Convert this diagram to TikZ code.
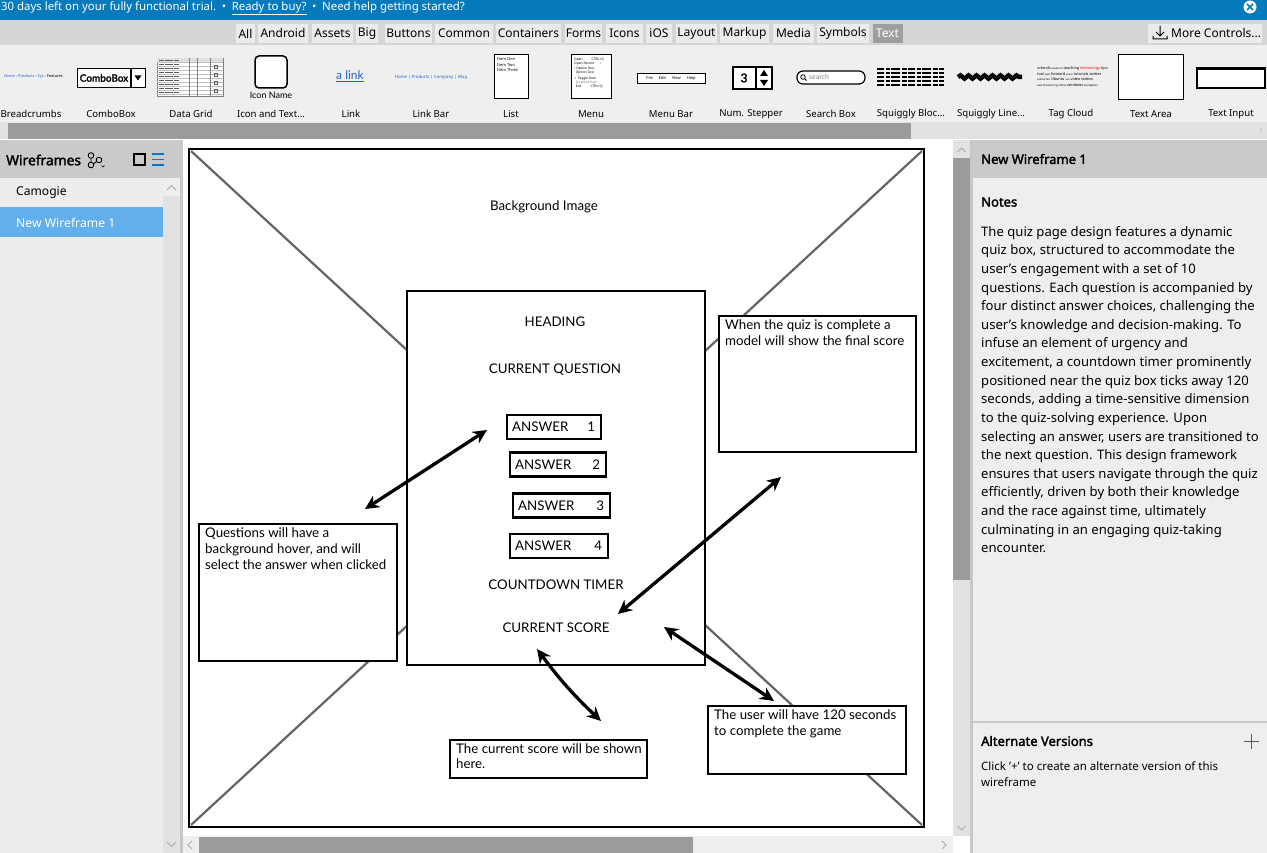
\documentclass[tikz,border=0pt]{standalone}
\usepackage{fontspec}
\setmainfont{Noto Sans}[AutoFakeBold=2.2]
\newfontfamily\wf{Lato}[AutoFakeBold=2.2]
\newfontfamily\dv{DejaVu Sans}
\usetikzlibrary{arrows.meta,calc,decorations.pathmorphing}
\definecolor{topblue}{RGB}{7,122,187}
\definecolor{tabrow}{RGB}{213,213,213}
\definecolor{tabbg}{RGB}{235,235,235}
\definecolor{tabsel}{RGB}{158,158,158}
\definecolor{comprow}{RGB}{239,239,239}
\definecolor{thumb}{RGB}{155,155,155}
\definecolor{track}{RGB}{226,226,226}
\definecolor{panelhead}{RGB}{201,202,204}
\definecolor{listbg}{RGB}{237,237,237}
\definecolor{selblue}{RGB}{99,175,235}
\definecolor{rightbg}{RGB}{238,238,238}
\definecolor{diag}{RGB}{100,100,100}
\definecolor{linkblue}{RGB}{30,100,190}
\definecolor{iconblue}{RGB}{0,120,200}
\definecolor{sepgray}{RGB}{200,200,200}
\definecolor{chev}{RGB}{170,170,170}
\newcommand\fsz[1]{\fontsize{#1}{#1}\selectfont}
\newcommand\mydots{...}
\begin{document}
\begin{tikzpicture}[x=1pt,y=-1pt,
  ui/.style={inner sep=0,font=\fsz{12}},
  tab/.style={fill=tabbg,inner sep=0,minimum height=19,font=\fsz{12}},
  complabel/.style={inner sep=0,font=\fsz{9.6}},
  wfbox/.style={draw=black,line width=2.2,fill=white,inner sep=0},
  wftext/.style={inner sep=0,anchor=north west,align=left,font=\wf\fontsize{13.3}{16}\selectfont},
  wfcap/.style={inner sep=0,font=\wf\fsz{13.3}},
  biarrow/.style={line width=3.3,{Stealth[length=14,width=13.5]}-{Stealth[length=14,width=13.5]}},
  tinytxt/.style={inner sep=0,font=\fsz{3.6}},
  hdr/.style={inner sep=0,anchor=west,font=\bfseries\fsz{13}}]
\useasboundingbox (0,0) rectangle (1267,853);

% ---------- top bar ----------
\fill[topblue] (0,0) rectangle (1267,20);
\node[ui,anchor=west,text=white,font=\fsz{11.4}] (trial) at (1,8.5) {30 days left on your fully functional trial.\enspace•\enspace\underline{Ready to buy?}\enspace•\enspace Need help getting started?};
\node[circle,fill=white,minimum size=13,inner sep=0] (close) at (1250,7) {};
\draw[topblue,line width=1.6] ($(close)+(-3,-3)$) -- ($(close)+(3,3)$) ($(close)+(-3,3)$) -- ($(close)+(3,-3)$);

% ---------- tab row ----------
\fill[tabrow] (0,20) rectangle (1267,45);
\foreach \t/\x/\w in {All/245.5/19,Android/283/50,Assets/332.5/41,Big/367/22,Buttons/408.5/47,Common/464/58,Containers/528.5/65,Forms/583.5/37,Icons/624.5/37,iOS/659/26,Layout/696.5/41,Markup/744.5/49,Media/793.5/41,Symbols/843/52}
  \node[tab,minimum width=\w] (tab-\t) at (\x,33.5) {\t};
\node[tab,fill=tabsel,text=white,minimum width=30] (tab-Text) at (887.5,33.5) {Text};
\node[tab,minimum width=114,anchor=west] (more) at (1148,33.5) {};
\node[ui,anchor=west] (moretxt) at (1171,33.5) {More Controls\mydots};
\draw[line width=1] (1160,26) -- (1160,36) (1156,32) -- (1160,36) -- (1164,32) (1153,36) -- (1153,39) -- (1167,39) -- (1167,36);

% ---------- component row ----------
\fill[comprow] (0,45) rectangle (1267,122);
\foreach \n/\x in {Breadcrumbs/31,ComboBox/111,Data Grid/191,Icon and Text\mydots/271,Link/351,Link Bar/431,List/511,Menu/591,Menu Bar/671,Num. Stepper/751,Search Box/831,Squiggly Bloc\mydots/911,Squiggly Line\mydots/991,Tag Cloud/1071,Text Area/1151,Text Input/1231}
  \node[complabel] (lbl-\x) at (\x,114) {\n};
% breadcrumbs
\node[tinytxt,anchor=east,text=linkblue,font=\fsz{3.9}] (bc) at (63,76) {Home › Products › Xyz › \textcolor{black}{Features}};
% combobox
\node[draw,fill=white,line width=1.3,minimum width=68,minimum height=19,inner sep=0,anchor=west] (cb) at (77,78) {};
\node[inner sep=0,font=\wf\bfseries\fsz{10}] (cbt) at (104,78) {ComboBox};
\draw[line width=1.3] (131,68.5) -- (131,87.5);
\fill (134.5,75.5) -- (141.5,75.5) -- (138,80.5) -- cycle;
% data grid
\node[draw=gray,fill=white,minimum width=66,minimum height=38,inner sep=0] (dg) at (190,77) {};
\fill[gray!25] (157,58) rectangle (223,62);
\foreach \yy in {62,66,70,74,78,82,86,90,94} \draw[gray!50,line width=0.3] (157,\yy) -- (223,\yy);
\draw[gray,line width=0.4] (189,58) -- (189,96) (197,58) -- (197,96) (210,58) -- (210,96);
\foreach \yy in {60,64,68,72,76,80,84,88,92} \draw[gray!70!black,line width=0.8,dash pattern=on 5pt off 1pt on 8pt off 1pt] (159,\yy) -- (180,\yy);
\foreach \yy in {68,76,84,92} \draw[gray!70!black,line width=0.7] (214,\yy) rectangle (217,\yy-2.5);
% icon and text
\draw[line width=1.5,rounded corners=4,fill=white] (255,56) rectangle (287,88);
\node[inner sep=0,font=\wf\fsz{9}] (iconname) at (271,95.5) {Icon Name};
% link
\node[inner sep=0,text=linkblue,font=\wf\fsz{12}] (alink) at (350,76) {\underline{a link}};
% link bar
\node[tinytxt,text=linkblue,font=\fsz{4.3}] (lbar) at (431,77) {Home | Products | Company | Blog};
% list
\node[draw,fill=white,line width=1,minimum width=34,minimum height=44,inner sep=0] (lst) at (511,77) {};
\node[tinytxt,anchor=north west,align=left,font=\fsz{4}] (lsttxt) at (497,57.5) {Item One\\[1.5pt]Item Two\\[1.5pt]Item Three};
% menu
\node[draw,fill=white,line width=1,minimum width=40,minimum height=44,inner sep=0] (menu) at (591,77) {};
\node[tinytxt,anchor=north west,align=left,font=\fsz{3.3}] (menutxt) at (574,57.5) {Open\hspace{9pt}CTRL+O\\[1pt]Open Recent\hspace{6pt}›\\[2pt]• Option One\\[1pt]\ \ Option Two\\[2pt]{\dv ✓} Toggle Item\\[1pt]\textcolor{gray}{\ \ Disabled Item}\\[1pt]\ \ Exit\hspace{9pt}CTRL+Q};
% menu bar
\node[draw,fill=white,line width=0.8,minimum width=68,minimum height=10,inner sep=0] (mbar) at (671,78) {};
\node[tinytxt,font=\fsz{4}] (mbart) at (671,78) {File\hspace{6pt}Edit\hspace{6pt}View\hspace{6pt}Help};
% num stepper
\node[draw,fill=white,line width=1.5,minimum width=39,minimum height=22,inner sep=0] (ns) at (752.5,78) {};
\node[inner sep=0,font=\wf\bfseries\fsz{12}] (ns3) at (744,78) {3};
\draw[line width=1.5] (756,67) -- (756,89);
\fill (764,70) -- (768,76) -- (760,76) -- cycle (764,86) -- (768,80) -- (760,80) -- cycle;
% search box
\draw[line width=1.2,fill=white,rounded corners=6] (797,71) rectangle (865,84);
\draw[line width=0.8] (803,77) circle (2.3) (804.7,78.7) -- (806.5,80.5);
\node[inner sep=0,text=gray,font=\wf\fsz{7}] (srch) at (819,77) {search};
% squiggly block
\foreach \yy in {69,73,77,81,85} \draw[line width=1.7,dash pattern=on 7pt off 1.5pt on 4pt off 1.5pt on 9pt off 1.5pt on 5pt off 1.5pt] (877,\yy) -- (944,\yy);
% squiggly line
\draw[line width=4.5,decorate,decoration={snake,segment length=8,amplitude=1.6}] (958,77) -- (1022,77);
% tag cloud
\node[tinytxt,anchor=north west,align=left,font=\fsz{3.8}] (tag) at (1037,66) {schools {\fontsize{2.5}{3}\selectfont academic} teaching \textcolor{red}{technology} tips\\[1.5pt]tool {\fontsize{2.5}{3}\selectfont web} forward {\fontsize{2.5}{3}\selectfont share} tutorials twitter\\[1.5pt]{\fontsize{2.8}{3}\selectfont resources} Ubuntu {\fontsize{2.5}{3}\selectfont use} video videos\\[1.5pt]{\fontsize{2.8}{3}\selectfont search learning online} windows {\fontsize{2.8}{3}\selectfont wordpress}};
% text area / input
\draw[line width=1,fill=white] (1118,55) rectangle (1183,100);
\draw[line width=2.3,fill=white] (1197,68.5) rectangle (1265,88);
% scrollbar
\fill[track] (0,122) rectangle (1267,139);
\fill[thumb] (8,123) rectangle (911,139);
\node[inner sep=0,text=chev,font=\fsz{8}] (scrR) at (1261,131) {›};

% ---------- left panel ----------
\fill[listbg] (0,140) rectangle (180,853);
\fill[panelhead] (0,140) rectangle (180,178);
\node[hdr,font=\bfseries\fsz{13.8}] (wfs) at (6,160) {Wireframes};
\draw[line width=0.9] (91,155.5) circle (2.8) (91,165) circle (2.8) (99,160) circle (2.8);
\draw[line width=0.9] (91,158.3) -- (91,162.2) (93.6,163.7) -- (96.5,161.5);
\draw[line width=0.6] (101.5,165.5) -- (103,167) -- (104.5,165.5);
\draw[line width=1.2] (134,154) rectangle (145,165);
\draw[iconblue,line width=1.3] (152,154) -- (164,154) (152,159.5) -- (164,159.5) (152,165) -- (164,165);
\fill[track] (163,178) rectangle (180,853);
\fill[rightbg] (163,178) rectangle (180,196);
\draw[chev,line width=0.8] (167,190) -- (171.5,185.5) -- (176,190);
\draw[chev,line width=0.8] (167,842) -- (171.5,846.5) -- (176,842);
\node[ui,anchor=west,font=\fsz{12.1}] (camogie) at (16,192.5) {Camogie};
\fill[selblue] (0,207) rectangle (163,237);
\node[ui,anchor=west,text=white,font=\fsz{12.2}] (nw1) at (16,222.5) {New Wireframe 1};
\fill[sepgray] (180,140) rectangle (183,853);

% ---------- canvas ----------
\fill[white] (183,140) rectangle (953,836);
\fill[track] (953,140) rectangle (970,836);
\fill[thumb] (953,158) rectangle (970,580);
\draw[chev,line width=0.8] (957.5,152) -- (961.5,148) -- (965.5,152);
\draw[chev,line width=0.8] (957.5,826) -- (961.5,830) -- (965.5,826);
\fill[rightbg] (183,836) rectangle (953,853);
\fill[thumb] (199,837) rectangle (693,853);
\draw[chev,line width=0.8] (192,841) -- (188,845) -- (192,849);
\draw[chev,line width=0.8] (942,841) -- (946,845) -- (942,849);

% background image placeholder
\coordinate (bgTL) at (191,151);
\coordinate (bgBR) at (922,825);
\coordinate (bgTR) at (922,151);
\coordinate (bgBL) at (191,825);
\draw[diag,line width=2.2] (bgTL) -- (bgBR) (bgTR) -- (bgBL);
\draw[line width=2.8] (189,149) rectangle (924,827);
\node[wfcap] (bgimg) at (544,207) {Background Image};

% quiz box
\node[wfbox,minimum width=298,minimum height=374,anchor=north west] (quiz) at (406,290) {};
\node[wfcap] (heading) at (555,322) {HEADING};
\node[wfcap] (curq) at (555,370) {CURRENT QUESTION};
\foreach \i/\xa/\xb/\yy in {1/506/600/427,2/509/605/464.5,3/512/609/505.5,4/509/607/546}{
  \node[wfbox,minimum width=\xb-\xa,minimum height=24,anchor=west] (ans\i) at (\xa,\yy) {};
  \node[wfcap,anchor=west] (anst\i) at ($(ans\i.west)+(6,0)$) {ANSWER};
  \node[wfcap,anchor=east] (ansn\i) at ($(ans\i.east)+(-7,0)$) {\i};
}
\node[wfcap] (timer) at (556,585) {COUNTDOWN TIMER};
\node[wfcap] (score) at (556,628) {CURRENT SCORE};

% notes on canvas
\node[wfbox,minimum width=197,minimum height=136,anchor=north west] (nmodal) at (718,315) {};
\node[wftext] (nmodalt) at ($(nmodal.north west)+(7,5)$) {When the quiz is complete a\\model will show the final score};
\node[wfbox,minimum width=198,minimum height=137,anchor=north west] (nhover) at (198,523) {};
\node[wftext] (nhovert) at ($(nhover.north west)+(7,5)$) {Questions will have a\\background hover, and will\\select the answer when clicked};
\node[wfbox,minimum width=197,minimum height=38,anchor=north west] (nscore) at (449,739) {};
\node[wftext] (nscoret) at ($(nscore.north west)+(7,4)$) {The current score will be shown\\here.};
\node[wfbox,minimum width=198,minimum height=68,anchor=north west] (ntime) at (707,705) {};
\node[wftext] (ntimet) at ($(ntime.north west)+(7,5)$) {The user will have 120 seconds\\to complete the game};

% arrows
\coordinate (a1s) at (365,509); \coordinate (a1e) at (487,430);
\coordinate (a2s) at (781,477); \coordinate (a2e) at (618,614);
\coordinate (a3s) at (537,649); \coordinate (a3e) at (601,721);
\coordinate (a4s) at (664,627); \coordinate (a4e) at (774,701);
\draw[biarrow] (a1s) -- (a1e);
\draw[biarrow] (a2s) -- (a2e);
\draw[biarrow] (a3s) to[bend right=5] (a3e);
\draw[biarrow] (a4s) -- (a4e);

% ---------- right panel ----------
\fill[rightbg] (970,140) rectangle (1267,853);
\fill[sepgray] (970,140) rectangle (973,853);
\fill[panelhead] (973,140) rectangle (1267,178);
\node[hdr] (rhead) at (981,159) {New Wireframe 1};
\node[hdr] (notesh) at (981,202) {Notes};
\node[inner sep=0,anchor=north west,align=left,font=\fontsize{13.1}{18.62}\selectfont] (notes) at (981,226) {The quiz page design features a dynamic\\quiz box, structured to accommodate the\\user's engagement with a set of 10\\questions. Each question is accompanied by\\four distinct answer choices, challenging the\\user's knowledge and decision-making. To\\infuse an element of urgency and\\excitement, a countdown timer prominently\\positioned near the quiz box ticks away 120\\seconds, adding a time-sensitive dimension\\to the quiz-solving experience. Upon\\selecting an answer, users are transitioned to\\the next question. This design framework\\ensures that users navigate through the quiz\\efficiently, driven by both their knowledge\\and the race against time, ultimately\\culminating in an engaging quiz-taking\\encounter.};
\fill[sepgray] (973,721) rectangle (1267,723);
\node[hdr] (altv) at (981,741) {Alternate Versions};
\draw[gray!70!black,line width=1] (1251,734) -- (1251,749) (1243.5,741.5) -- (1258.5,741.5);
\node[inner sep=0,anchor=north west,align=left,font=\fontsize{11.5}{16}\selectfont] (altt) at (981,761) {Click '+' to create an alternate version of this\\wireframe};
\end{tikzpicture}
\end{document}
